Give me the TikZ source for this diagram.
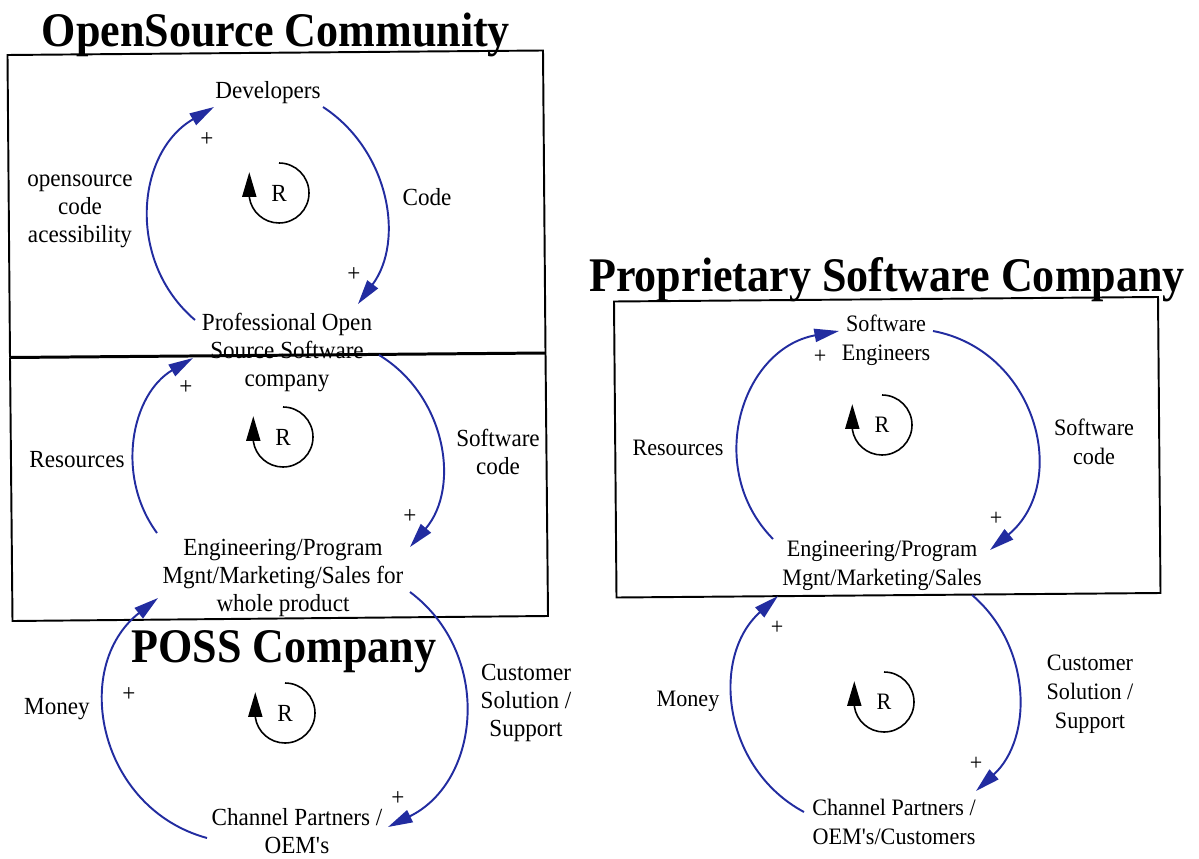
\documentclass[tikz,border=0pt]{standalone}
\usepackage{fontspec}
\setmainfont{Liberation Serif}[FakeStretch=0.94]
\newfontfamily\titlefont{Liberation Serif}[FakeStretch=0.912]
\usetikzlibrary{arrows.meta}
\definecolor{linkblue}{RGB}{34,44,160}
\tikzset{
  lbl/.style={align=center, inner sep=0pt, font=\fontsize{14}{16}\selectfont},
  rlbl/.style={align=center, inner sep=0pt, font=\fontsize{13.4}{16.4}\selectfont},
  ttl/.style={anchor=base, inner sep=0pt, font=\titlefont\bfseries\fontsize{27.5}{30}\selectfont},
  link/.style={draw=linkblue, line width=1.1pt, -{Triangle[length=14pt,width=7.5pt]}},
  loopmark/.style={draw=black, line width=0.9pt, -{Triangle[length=14pt,width=8pt]}},
  frame/.style={draw=black, line width=1.1pt, line join=miter},
}
\begin{document}
\begin{tikzpicture}[x=0.02cm, y=0.02cm]
\fill[white] (0,0) rectangle (1199,-858);
\useasboundingbox (0,0) rectangle (1199,-858);

% frames
\draw[frame] (10,-357.5) -- (7.5,-55) -- (543,-50.5) -- (545.5,-353);
\draw[frame] (545.5,-353) -- (548,-616) -- (12.5,-621) -- (10,-357.5);
\draw[draw=black, line width=1.7pt] (10,-357.5) -- (545.5,-353);
\draw[frame] (614,-301.5) -- (1158,-297) -- (1160.5,-593) -- (616.5,-597.5) -- cycle;

% titles
\node[ttl] (t1) at (276,-47) {OpenSource Community};
\node[ttl] (t2) at (284,-662) {POSS Company};
\node[ttl] (t3) at (887,-291) {Proprietary Software Company};

% open source community loop
\node[lbl] (dev) at (268,-92.5) {Developers};
\node[lbl] (p1) at (207,-140) {+};
\node[lbl] (acc) at (80,-211.7) {opensource\\code\\acessibility};
\node[lbl] (code) at (427,-197) {Code};
\node[lbl] (p2) at (354,-275) {+};
\node[lbl] (prof) at (287,-352.7) {Professional Open\\Source Software\\company};
\node[lbl] (r1) at (279,-193) {R};

% POSS company loops
\node[lbl] (p3) at (186,-388) {+};
\node[lbl] (res) at (77,-460) {Resources};
\node[lbl] (swc) at (498,-452) {Software\\code};
\node[lbl] (p4) at (410,-517) {+};
\node[lbl] (eng) at (283,-577.7) {Engineering/Program\\Mgnt/Marketing/Sales for\\whole product};
\node[lbl] (r2) at (283,-437) {R};
\node[lbl] (p5) at (129,-695) {+};
\node[lbl] (money) at (57,-708.7) {Money};
\node[lbl] (cust) at (526,-702.7) {Customer\\Solution /\\Support};
\node[lbl] (p6) at (398,-799) {+};
\node[lbl] (chan) at (297,-831) {Channel Partners /\\OEM\textquotesingle s};
\node[lbl] (r3) at (285,-713) {R};

% proprietary company loops
\node[rlbl] (sweng) at (886,-340.5) {Software\\Engineers};
\node[rlbl] (p7) at (820,-357) {+};
\node[rlbl] (res2) at (678,-448) {Resources};
\node[rlbl] (swc2) at (1094,-442) {Software\\code};
\node[rlbl] (p8) at (996,-519) {+};
\node[rlbl] (eng2) at (882,-566) {Engineering/Program\\Mgnt/Marketing/Sales};
\node[rlbl] (r4) at (882,-425) {R};
\node[rlbl] (p9) at (777,-628) {+};
\node[rlbl] (money2) at (688,-701) {Money};
\node[rlbl] (cust2) at (1090,-694.5) {Customer\\Solution /\\Support};
\node[rlbl] (p10) at (976,-764) {+};
\node[rlbl] (chan2) at (894,-822) {Channel Partners /\\OEM\textquotesingle s/Customers};
\node[rlbl] (r5) at (884,-702) {R};

% link end points
\coordinate (a1s) at (195,-320);  \coordinate (a1t) at (214,-107);
\coordinate (a2s) at (323,-107);  \coordinate (a2t) at (358,-304);
\coordinate (b1s) at (157,-533);  \coordinate (b1t) at (193,-358);
\coordinate (b2s) at (379,-355);  \coordinate (b2t) at (410,-547);
\coordinate (c1s) at (207,-838);  \coordinate (c1t) at (158,-598);
\coordinate (c2s) at (410,-592);  \coordinate (c2t) at (388,-827);
\coordinate (d1s) at (773,-539);  \coordinate (d1t) at (839,-331);
\coordinate (d2s) at (933,-331);  \coordinate (d2t) at (990,-550);
\coordinate (e1s) at (804,-812);  \coordinate (e1t) at (778,-596);
\coordinate (e2s) at (972,-595);  \coordinate (e2t) at (976,-791);

% causal links
\draw[link] (a1s) to[bend left=54.7, looseness=1.08] (a1t);
\draw[link] (a2s) to[bend left=46.8, looseness=1.01] (a2t);
\draw[link] (b1s) to[bend left=47.9, looseness=1.02] (b1t);
\draw[link] (b2s) to[bend left=49.6, looseness=1.03] (b2t);
\draw[link] (c1s) to[bend left=63.2, looseness=1.17] (c1t);
\draw[link] (c2s) to[bend left=58.5, looseness=1.12] (c2t);
\draw[link] (d1s) to[bend left=62.1, looseness=1.16] (d1t);
\draw[link] (d2s) to[bend left=64.8, looseness=1.19] (d2t);
\draw[link] (e1s) to[bend left=55, looseness=1.08] (e1t);
\draw[link] (e2s) to[bend left=48.4, looseness=1.02] (e2t);

% reinforcing loop markers
\foreach \r in {r1,r2,r3,r4,r5}{
  \draw[loopmark] (\r.center) ++(0,30) arc[start angle=90, end angle=-172, radius=30] -- ++(0,25);
}
\end{tikzpicture}
\end{document}
